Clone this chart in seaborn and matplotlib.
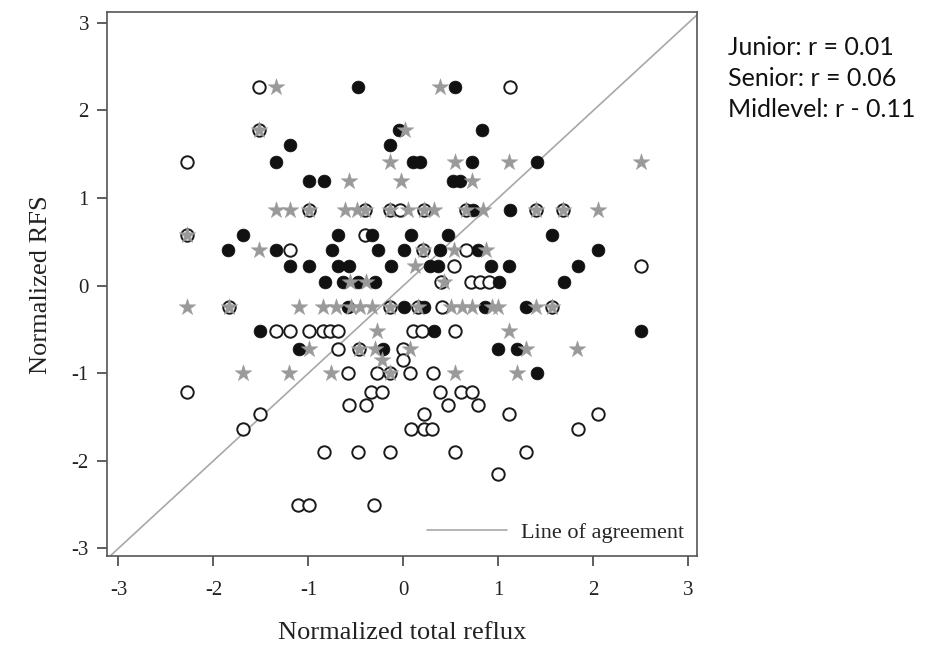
import numpy as np
import pandas as pd
import seaborn as sns
import matplotlib.pyplot as plt

# Data (normalized scores)
junior_x = [-1.52, 1.12,
            -1.52,
            -2.28,
            -0.99, -0.40, -0.14, -0.04, 0.22, 0.66, 1.40, 1.68,
            -2.28, -0.40,
            -1.19, 0.21, 0.66,
            0.53, 2.50,
            0.40, 0.71, 0.81, 0.90,
            -1.84, -0.14, 0.15, 0.41, 1.56,
            -1.34, -1.19, -0.99, -0.85, -0.77, -0.69, 0.10, 0.20, 0.54,
            -0.69, -0.47, 0.00,
            0.00,
            -0.58, -0.28, -0.14, 0.07, 0.31,
            -2.28, -0.34, -0.23, 0.38, 0.61, 0.72,
            -0.57, -0.39, 0.47, 0.79,
            -1.51, 0.22, 1.11, 2.05,
            -1.69, 0.08, 0.22, 0.30, 1.84,
            -0.84, -0.48, -0.14, 0.54, 1.29,
            1.00,
            -1.11, -0.99, -0.31]
junior_y = [2.27, 2.27,
            1.78,
            1.41,
            0.86, 0.86, 0.86, 0.86, 0.86, 0.86, 0.86, 0.86,
            0.58, 0.58,
            0.41, 0.41, 0.41,
            0.22, 0.22,
            0.04, 0.04, 0.04, 0.04,
            -0.24, -0.24, -0.24, -0.24, -0.24,
            -0.52, -0.52, -0.52, -0.52, -0.52, -0.52, -0.52, -0.52, -0.52,
            -0.72, -0.72, -0.72,
            -0.85,
            -1.00, -1.00, -1.00, -1.00, -1.00,
            -1.22, -1.22, -1.22, -1.22, -1.22, -1.22,
            -1.36, -1.36, -1.36, -1.36,
            -1.47, -1.47, -1.47, -1.47,
            -1.64, -1.64, -1.64, -1.64, -1.64,
            -1.90, -1.90, -1.90, -1.90, -1.90,
            -2.15,
            -2.50, -2.50, -2.50]

senior_x = [-0.48, 0.54,
            -0.05, 0.83,
            -1.19, -0.14,
            -1.34, 0.10, 0.17, 0.72, 1.41,
            -0.99, -0.84, 0.52, 0.60,
            0.73, 1.12,
            -1.69, -0.69, -0.33, 0.08, 0.47, 1.56,
            -1.85, -1.34, -0.75, -0.27, 0.01, 0.38, 0.78, 2.05,
            -1.19, -0.99, -0.69, -0.57, -0.13, 0.28, 0.36, 0.92, 1.11, 1.84,
            -0.83, -0.64, -0.48, -0.30, 1.01, 1.69,
            -0.58, 0.01, 0.22, 0.86, 1.29,
            -1.51, 0.32, 2.50,
            -1.10, -0.22, 1.00, 1.20,
            1.41]
senior_y = [2.27, 2.27,
            1.78, 1.78,
            1.61, 1.61,
            1.41, 1.41, 1.41, 1.41, 1.41,
            1.19, 1.19, 1.19, 1.19,
            0.86, 0.86,
            0.58, 0.58, 0.58, 0.58, 0.58, 0.58,
            0.41, 0.41, 0.41, 0.41, 0.41, 0.41, 0.41, 0.41,
            0.22, 0.22, 0.22, 0.22, 0.22, 0.22, 0.22, 0.22, 0.22, 0.22,
            0.04, 0.04, 0.04, 0.04, 0.04, 0.04,
            -0.24, -0.24, -0.24, -0.24, -0.24,
            -0.52, -0.52, -0.52,
            -0.72, -0.72, -0.72, -0.72,
            -1.00]

midlevel_x = [-1.34, 0.38,
              -1.52, 0.02,
              -0.14, 0.54, 1.11, 2.50,
              -0.57, -0.03, 0.72,
              -1.34, -1.19, -0.99, -0.62, -0.49, -0.40, -0.14, 0.05, 0.22, 0.32,
              0.66, 0.84, 1.40, 1.68, 2.05,
              -2.28,
              -1.52, 0.21, 0.53, 0.87,
              0.12,
              -0.56, -0.39, 0.43,
              -2.28, -1.84, -1.10, -0.85, -0.71, -0.55, -0.46, -0.33, -0.14, 0.15,
              0.50, 0.62, 0.72, 0.93, 1.00, 1.40, 1.56,
              -0.28, 1.11,
              -0.99, -0.47, -0.30, 0.07, 1.29, 1.83,
              -0.23,
              -1.69, -1.20, -0.76, -0.14, 0.54, 1.20]
midlevel_y = [2.27, 2.27,
              1.78, 1.78,
              1.41, 1.41, 1.41, 1.41,
              1.19, 1.19, 1.19,
              0.86, 0.86, 0.86, 0.86, 0.86, 0.86, 0.86, 0.86, 0.86, 0.86,
              0.86, 0.86, 0.86, 0.86, 0.86,
              0.58,
              0.41, 0.41, 0.41, 0.41,
              0.22,
              0.04, 0.04, 0.04,
              -0.24, -0.24, -0.24, -0.24, -0.24, -0.24, -0.24, -0.24, -0.24, -0.24,
              -0.24, -0.24, -0.24, -0.24, -0.24, -0.24, -0.24,
              -0.52, -0.52,
              -0.72, -0.72, -0.72, -0.72, -0.72, -0.72,
              -0.85,
              -1.00, -1.00, -1.00, -1.00, -1.00, -1.00]

r_labels = ["Junior: r = 0.01", "Senior: r = 0.06", "Midlevel: r - 0.11"]
ticks = [-3, -2, -1, 0, 1, 2, 3]

junior = pd.DataFrame({"x": junior_x, "y": junior_y})
senior = pd.DataFrame({"x": senior_x, "y": senior_y})
midlevel = pd.DataFrame({"x": midlevel_x, "y": midlevel_y})

sns.set_style("white")
plt.rcParams["font.family"] = ["Liberation Serif", "DejaVu Serif"]
plt.rcParams["axes.unicode_minus"] = False

fig = plt.figure(figsize=(9.26, 6.46), dpi=100)
ax = fig.add_axes([0.1156, 0.139, 0.6371, 0.842])

sns.scatterplot(data=junior, x="x", y="y", ax=ax, marker="o", s=80,
                facecolor="white", edgecolor="#1a1a1a", linewidth=1.4, zorder=3)
sns.scatterplot(data=senior, x="x", y="y", ax=ax, marker="o", s=85,
                color="#111111", edgecolor="#111111", linewidth=0.5, zorder=4)
sns.scatterplot(data=midlevel, x="x", y="y", ax=ax, marker="*", s=160,
                color="#9a9a9a", edgecolor="#9a9a9a", linewidth=0.3, zorder=5)

# line of agreement (y = x)
ax.axline((0, 0), slope=1, color="#a8a8a8", linewidth=1.2, zorder=2,
          label="Line of agreement")

ax.set_xlim(-3.12, 3.09)
ax.set_ylim(-3.09, 3.12)
ax.set_xticks(ticks)
ax.set_yticks(ticks)
ax.tick_params(direction="out", length=7, width=1.1, colors="#333333",
               labelsize=15, labelcolor="#222222", pad=6)
ax.tick_params(axis="x", pad=11)
ax.tick_params(bottom=True, left=True)
for sp in ax.spines.values():
    sp.set_color("#555555")
    sp.set_linewidth(1.2)

ax.set_xlabel("Normalized total reflux", fontsize=19, labelpad=16, color="#222222")
ax.set_ylabel("Normalized RFS", fontsize=19, labelpad=14, color="#222222")

ax.legend(loc="lower right", frameon=False, fontsize=16, handlelength=3.6,
          borderaxespad=0.2, handletextpad=0.6)

for i, t in enumerate(r_labels):
    fig.text(0.786, 0.927 - i * 0.048, t, fontsize=18, va="center", ha="left",
             family=["Lato", "DejaVu Sans"], color="#111111")

fig.savefig("out.png", dpi=100)
